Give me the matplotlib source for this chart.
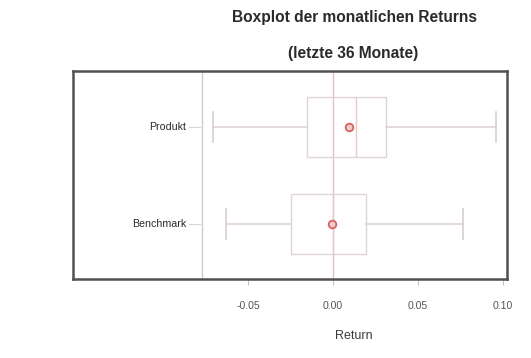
import numpy as np
import matplotlib.pyplot as plt

plt.rcParams['font.family'] = ['Liberation Sans', 'DejaVu Sans']

# monthly return summaries, last 36 months
labels = ['Benchmark', 'Produkt']
whislo = [-0.063, -0.0706]
q1 = [-0.0247, -0.0153]
med = [0.0, 0.0135]
q3 = [0.0194, 0.031]
whishi = [0.0765, 0.096]
means = [-0.0006, 0.0094]

stats = []
for i in range(len(labels)):
    stats.append({'label': labels[i], 'whislo': whislo[i], 'q1': q1[i],
                  'med': med[i], 'q3': q3[i], 'whishi': whishi[i],
                  'mean': means[i], 'fliers': []})

fig = plt.figure(figsize=(5.31, 3.58), dpi=100)
ax = fig.add_axes([0.1375, 0.2207, 0.8173, 0.581])

boxcol = '#e0d4d4'
ax.axvline(0, color='#dcc4c4', lw=1, zorder=0)
ax.axvline(-0.077, color='#d2caca', lw=1, zorder=0)

ax.bxp(stats, positions=[1, 2], orientation='horizontal', widths=0.62,
       showmeans=True, showfliers=False,
       boxprops=dict(color=boxcol, lw=1),
       whiskerprops=dict(color=boxcol, lw=1.2),
       capprops=dict(color='#d8d0d0', lw=1.2),
       medianprops=dict(color='#ecc8c8', lw=1),
       meanprops=dict(marker='o', markersize=5.5, markerfacecolor='#f2cccc',
                      markeredgecolor='#d4645f', markeredgewidth=1.3))

ax.set_xlim(-0.153, 0.1024)
ax.set_ylim(0.433, 2.577)

# category labels sit inside the frame, left of the inner axis line
ax.set_yticks([])
for pos, lab in zip([1, 2], labels):
    ax.text(-0.0865, pos, lab, ha='right', va='center', fontsize=7.7,
            color='#2a2a2a')
    ax.plot([-0.0845, -0.078], [pos, pos], color='#dcd4d4', lw=0.8)

ax.set_xticks([-0.05, 0.0, 0.05, 0.10])
ax.set_xticklabels(['-0.05', '0.00', '0.05', '0.10'])
ax.tick_params(axis='x', length=4, width=0.8, color='#c4c4c4', pad=12,
               labelsize=7.6, labelcolor='#555555')

for s in ax.spines.values():
    s.set_color('#555050')
    s.set_linewidth(1.8)

fig.text(0.667, 0.062, 'Return', ha='center', va='center', fontsize=9,
         color='#3a3a3a')

fig.text(0.667, 0.95, 'Boxplot der monatlichen Returns', ha='center',
         va='center', fontsize=11.2, fontweight='bold', color='#2a2a2a')
fig.text(0.665, 0.85, '(letzte 36 Monate)', ha='center', va='center',
         fontsize=11.2, fontweight='bold', color='#2a2a2a')

fig.savefig('out.png', dpi=100, facecolor='white')
